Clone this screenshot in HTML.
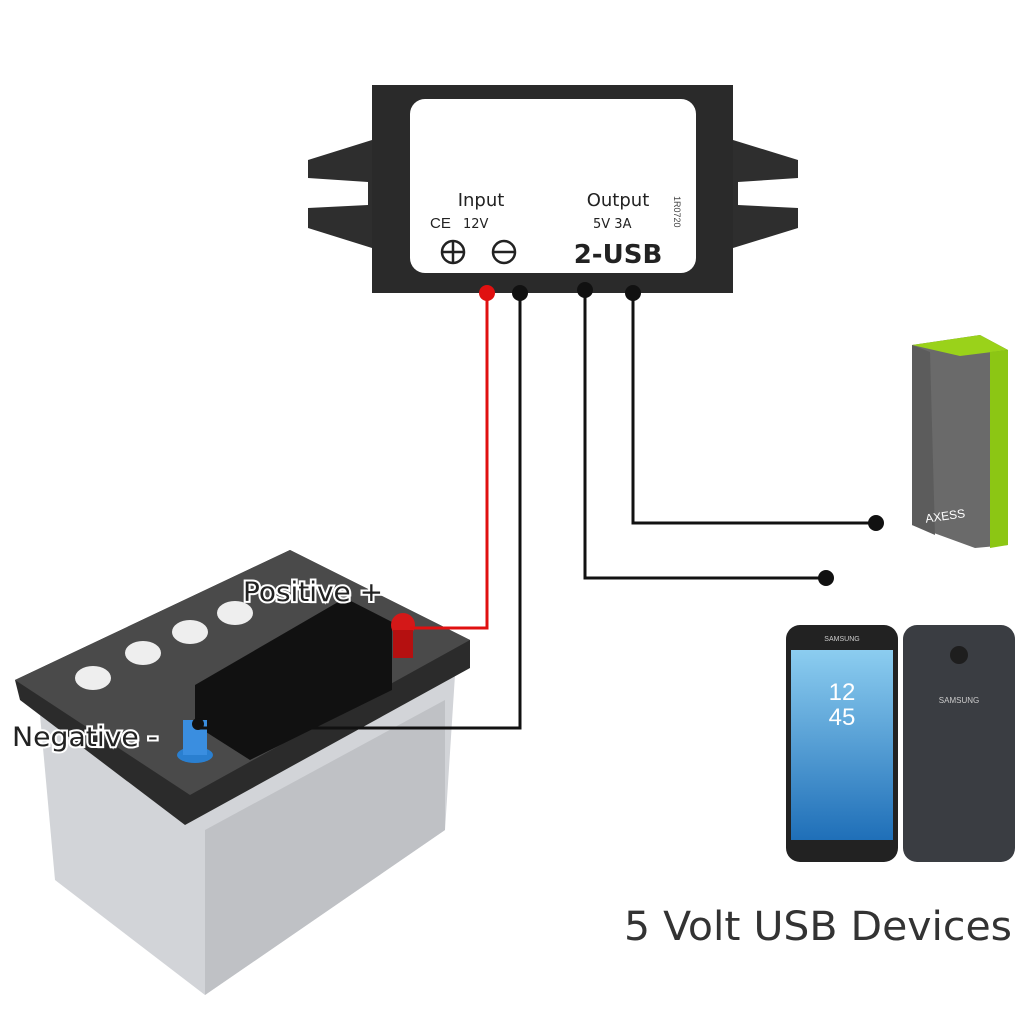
<!DOCTYPE html>
<html><head><meta charset="utf-8"><style>html,body{margin:0;padding:0;background:#fff}svg{display:block}</style></head>
<body>
<svg width="1024" height="1024" viewBox="0 0 1024 1024" xmlns="http://www.w3.org/2000/svg" font-family="Liberation Sans, sans-serif">
<rect width="1024" height="1024" fill="#fff"/>
<g fill="#2e2e2e">
<polygon points="372,140 308,160 308,178 368,182 368,205 308,208 308,228 372,248"/>
<polygon points="733,140 798,160 798,178 738,182 738,205 798,208 798,228 733,248"/>
</g>
<rect x="372" y="85" width="361" height="208" fill="#2a2a2a"/>
<rect x="410" y="99" width="286" height="174" rx="15" fill="#fff"/>
<text x="481" y="206" font-size="18" text-anchor="middle" fill="#222" font-family="DejaVu Sans, sans-serif">Input</text>
<text x="618" y="206" font-size="18" text-anchor="middle" fill="#222" font-family="DejaVu Sans, sans-serif">Output</text>
<text x="430" y="228" font-size="15" fill="#222">CE</text>
<text x="463" y="228" font-size="13" fill="#222" font-family="DejaVu Sans, sans-serif">12V</text>
<text x="593" y="228" font-size="13" fill="#222" font-family="DejaVu Sans, sans-serif">5V 3A</text>
<text x="618" y="263" font-size="26" font-weight="bold" text-anchor="middle" fill="#222" font-family="DejaVu Sans, sans-serif">2-USB</text>
<text transform="translate(674,196) rotate(90)" font-size="9" fill="#444">1R0720</text>
<g fill="none" stroke="#222" stroke-width="2.5">
<circle cx="453" cy="252" r="11"/><line x1="442" y1="252" x2="464" y2="252"/><line x1="453" y1="241" x2="453" y2="263"/>
<circle cx="504" cy="252" r="11"/><line x1="493" y1="252" x2="515" y2="252"/>
</g>
<!-- power bank -->
<polygon points="912,345 980,335 1008,350 1008,545 975,548 912,525" fill="#6a6a6a"/>
<polygon points="912,345 980,335 1008,350 960,356" fill="#9ad21a"/>
<polygon points="990,352 1008,350 1008,545 990,548" fill="#8cc614"/>
<polygon points="912,345 930,352 935,535 912,525" fill="#5c5c5c"/>
<text x="925" y="520" font-size="12" fill="#fff" transform="rotate(-8 945 515)">AXESS</text>
<!-- phones -->
<rect x="786" y="625" width="112" height="237" rx="14" fill="#222"/>
<defs><linearGradient id="sc" x1="0" y1="0" x2="0" y2="1"><stop offset="0" stop-color="#8ccdf0"/><stop offset="1" stop-color="#1f6fb8"/></linearGradient></defs>
<rect x="791" y="650" width="102" height="190" fill="url(#sc)"/>
<text x="842" y="700" font-size="24" fill="#fff" text-anchor="middle">12</text>
<text x="842" y="725" font-size="24" fill="#fff" text-anchor="middle">45</text>
<text x="842" y="641" font-size="7" fill="#ccc" text-anchor="middle">SAMSUNG</text>
<rect x="903" y="625" width="112" height="237" rx="14" fill="#3a3d42"/>
<circle cx="959" cy="655" r="9" fill="#1e1e1e"/>
<text x="959" y="703" font-size="8" fill="#ccc" text-anchor="middle">SAMSUNG</text>
<!-- battery -->
<polygon points="40,715 455,675 445,830 205,995 55,880" fill="#d2d4d8"/>
<polygon points="205,830 445,700 445,830 205,995" fill="#bfc1c5"/>
<polygon points="15,680 290,550 470,640 470,668 185,825 20,700" fill="#2b2b2b"/>
<polygon points="15,680 290,550 470,640 190,795" fill="#4a4a4a"/>
<polygon points="195,685 345,598 392,622 392,690 250,760 195,725" fill="#111"/>
<g fill="#eee"><ellipse cx="93" cy="678" rx="18" ry="12"/><ellipse cx="143" cy="653" rx="18" ry="12"/><ellipse cx="190" cy="632" rx="18" ry="12"/><ellipse cx="235" cy="613" rx="18" ry="12"/></g>
<circle cx="403" cy="625" r="12" fill="#d41818"/>
<rect x="393" y="630" width="20" height="28" fill="#b51010"/>
<ellipse cx="195" cy="755" rx="18" ry="8" fill="#2a7fd0"/>
<rect x="183" y="720" width="24" height="35" fill="#3a8ee0"/>
<circle cx="198" cy="724" r="6" fill="#111"/>
<!-- wires -->
<polyline points="487,293 487,628 410,628" fill="none" stroke="#e01010" stroke-width="3"/>
<polyline points="520,293 520,728 200,728" fill="none" stroke="#111" stroke-width="3"/>
<polyline points="585,290 585,578 826,578" fill="none" stroke="#111" stroke-width="3"/>
<polyline points="633,293 633,523 876,523" fill="none" stroke="#111" stroke-width="3"/>
<circle cx="487" cy="293" r="8" fill="#e01010"/>
<g fill="#111"><circle cx="520" cy="293" r="8"/><circle cx="585" cy="290" r="8"/><circle cx="633" cy="293" r="8"/><circle cx="826" cy="578" r="8"/><circle cx="876" cy="523" r="8"/></g>
<g font-size="27" fill="#222" stroke="#fff" stroke-width="4" paint-order="stroke" font-family="DejaVu Sans, sans-serif">
<text x="243" y="601" textLength="140" lengthAdjust="spacingAndGlyphs">Positive +</text>
<text x="12" y="746" textLength="146" lengthAdjust="spacingAndGlyphs">Negative -</text>
</g>
<text x="624" y="940" font-size="40" fill="#333" font-family="DejaVu Sans, sans-serif" textLength="388" lengthAdjust="spacingAndGlyphs">5 Volt USB Devices</text>
</svg>
</body></html>
